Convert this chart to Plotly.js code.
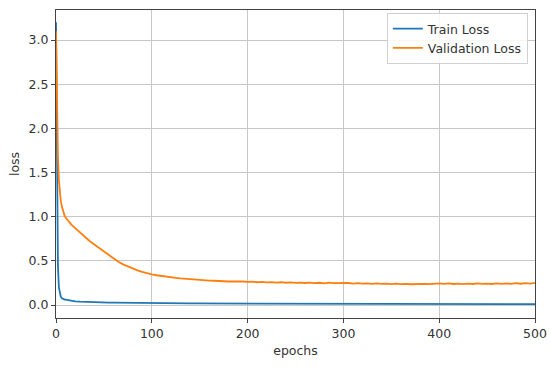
<!DOCTYPE html>
<html>
<head>
<meta charset="utf-8">
<script src="https://cdn.plot.ly/plotly-3.0.1.min.js"></script>
<style>
  html, body { margin: 0; padding: 0; background: #fff; }
  #chart { width: 550px; height: 368px; }
</style>
</head>
<body>
<div id="chart"></div>
<script>
// epochs sampled from the curves (dense at the start where it drops fast)
const epochs = [
    0, 1, 2, 3, 4, 5, 6, 7, 8, 9, 10, 12, 14, 16, 18, 20,
    25, 30, 35, 40, 45, 50, 55, 60, 65, 70, 75, 80, 85, 90, 95, 100,
    105, 110, 115, 120, 125, 130, 135, 140, 145, 150, 155, 160, 165, 170, 175, 180, 185, 190, 195, 200,
    205, 210, 215, 220, 225, 230, 235, 240, 245, 250, 255, 260, 265, 270, 275, 280, 285, 290, 295, 300,
    305, 310, 315, 320, 325, 330, 335, 340, 345, 350, 355, 360, 365, 370, 375, 380, 385, 390, 395, 400,
    405, 410, 415, 420, 425, 430, 435, 440, 445, 450, 455, 460, 465, 470, 475, 480, 485, 490, 495, 500
];

const trainLoss = [
    3.20, 1.20, 0.45, 0.20, 0.12, 0.095, 0.078, 0.070, 0.065, 0.062, 0.060, 0.055, 0.051, 0.047, 0.044, 0.042,
    0.038, 0.035, 0.033, 0.031, 0.029, 0.028, 0.027, 0.026, 0.025, 0.024, 0.023, 0.023, 0.022, 0.022, 0.021, 0.021,
    0.020, 0.020, 0.020, 0.019, 0.019, 0.019, 0.018, 0.018, 0.018, 0.018, 0.017, 0.017, 0.017, 0.017, 0.016, 0.016, 0.016, 0.016, 0.016, 0.015,
    0.015, 0.015, 0.015, 0.015, 0.015, 0.014, 0.014, 0.014, 0.014, 0.014, 0.014, 0.014, 0.013, 0.013, 0.013, 0.013, 0.013, 0.013, 0.013, 0.013,
    0.013, 0.013, 0.012, 0.012, 0.012, 0.012, 0.012, 0.012, 0.012, 0.012, 0.012, 0.012, 0.012, 0.012, 0.012, 0.011, 0.011, 0.011, 0.011, 0.011,
    0.011, 0.011, 0.011, 0.011, 0.011, 0.011, 0.011, 0.011, 0.011, 0.011, 0.011, 0.011, 0.010, 0.010, 0.010, 0.010, 0.010, 0.010, 0.010, 0.010
];

const valLoss = [
    3.10, 2.30, 1.70, 1.42, 1.27, 1.18, 1.12, 1.07, 1.04, 1.01, 0.99, 0.96, 0.93, 0.91, 0.89, 0.87,
    0.82, 0.77, 0.725, 0.685, 0.645, 0.605, 0.565, 0.525, 0.49, 0.46, 0.435, 0.412, 0.393, 0.376, 0.36, 0.347,
    0.337, 0.328, 0.32, 0.313, 0.307, 0.301, 0.296, 0.291, 0.287, 0.283, 0.279, 0.276, 0.275, 0.270, 0.272, 0.266, 0.268, 0.263, 0.266, 0.262,
    0.265, 0.258, 0.262, 0.256, 0.260, 0.254, 0.258, 0.252, 0.257, 0.250, 0.254, 0.249, 0.253, 0.247, 0.252, 0.246, 0.254, 0.247, 0.250, 0.245,
    0.249, 0.243, 0.248, 0.242, 0.246, 0.240, 0.245, 0.239, 0.243, 0.237, 0.242, 0.236, 0.240, 0.235, 0.238, 0.233, 0.240, 0.236, 0.242, 0.245,
    0.240, 0.244, 0.238, 0.243, 0.237, 0.242, 0.238, 0.244, 0.239, 0.243, 0.238, 0.244, 0.240, 0.246, 0.240, 0.247, 0.241, 0.248, 0.243, 0.250
];

const xTicks = [0, 100, 200, 300, 400, 500];
const yTicks = [0.0, 0.5, 1.0, 1.5, 2.0, 2.5, 3.0];

const data = [
    {
        x: epochs,
        y: trainLoss,
        name: 'Train Loss',
        type: 'scatter',
        mode: 'lines',
        line: { color: '#1f77b4', width: 1.8 }
    },
    {
        x: epochs,
        y: valLoss,
        name: 'Validation Loss',
        type: 'scatter',
        mode: 'lines',
        line: { color: '#ff7f0e', width: 1.8 }
    }
];

const axisCommon = {
    showline: true,
    mirror: true,
    linecolor: '#444',
    linewidth: 1,
    showgrid: true,
    gridcolor: '#c8c8c8',
    gridwidth: 1,
    zeroline: false,
    ticks: 'outside',
    ticklen: 4,
    tickcolor: '#444',
    tickfont: { family: 'DejaVu Sans', size: 12.5, color: '#333' }
};

const layout = {
    width: 550,
    height: 368,
    margin: { l: 56, r: 15, t: 10, b: 50 },
    paper_bgcolor: '#fff',
    plot_bgcolor: '#fff',
    font: { family: 'DejaVu Sans', size: 12.5, color: '#333' },
    xaxis: Object.assign({}, axisCommon, {
        range: [0, 500],
        tickvals: xTicks,
        ticktext: xTicks.map(String),
        title: { text: 'epochs', font: { size: 12.5 }, standoff: 6 }
    }),
    yaxis: Object.assign({}, axisCommon, {
        range: [-0.147, 3.34],
        tickvals: yTicks,
        ticktext: yTicks.map(v => v.toFixed(1)),
        title: { text: 'loss', font: { size: 12.5 }, standoff: 6 }
    }),
    showlegend: true,
    legend: {
        x: 0.985,
        y: 0.99,
        xanchor: 'right',
        yanchor: 'top',
        bgcolor: 'rgba(255,255,255,0.85)',
        bordercolor: '#d0d0d0',
        borderwidth: 1,
        font: { family: 'DejaVu Sans', size: 12.5, color: '#333' },
        tracegroupgap: 0
    }
};

Plotly.newPlot('chart', data, layout, { displayModeBar: false, staticPlot: true });
</script>
</body>
</html>
